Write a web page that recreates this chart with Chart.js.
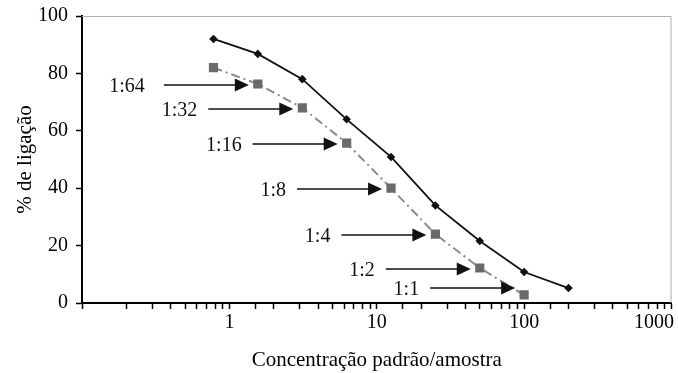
<!DOCTYPE html>
<html>
<head>
<meta charset="utf-8">
<script src="https://cdn.jsdelivr.net/npm/chart.js@4"></script>
<style>
  html, body { margin: 0; padding: 0; background: #fff; }
  #wrap { width: 678px; height: 373px; }
</style>
</head>
<body>
<div id="wrap"><canvas id="chart"></canvas></div>
<script>
// concentration (doubling dilutions)
const concentrations = [0.78, 1.56, 3.125, 6.25, 12.5, 25, 50, 100, 200];
const padraoValues = [92, 86.8, 78, 64, 50.9, 34, 21.6, 10.8, 5.2];
const amostraValues = [82, 76.3, 68, 55.7, 40, 24, 12.2, 2.8];
const dilutionLabels = ["1:64", "1:32", "1:16", "1:8", "1:4", "1:2", "1:1"];
const xTickLabels = [1, 10, 100, 1000];
const yTicks = [0, 20, 40, 60, 80, 100];

const serif = "'Liberation Serif', 'DejaVu Serif', serif";

// arrows point at the gray squares (skip the first one)
const arrowPlugin = {
  id: "arrows",
  afterDatasetsDraw(chart) {
    const ctx = chart.ctx;
    const pts = chart.getDatasetMeta(1).data;
    const bottom = chart.chartArea.bottom;
    ctx.save();
    ctx.strokeStyle = "#111";
    ctx.fillStyle = "#111";
    ctx.lineWidth = 1.5;
    ctx.font = "20px " + serif;
    ctx.textAlign = "right";
    ctx.textBaseline = "middle";
    dilutionLabels.forEach((lab, i) => {
      const p = pts[i + 1];
      const tip = p.x - 9;
      const y = Math.min(Math.round(p.y) + 1, bottom - 15);
      const start = tip - 85;
      ctx.beginPath();
      ctx.moveTo(start, y);
      ctx.lineTo(tip - 10, y);
      ctx.stroke();
      ctx.beginPath();
      ctx.moveTo(tip, y);
      ctx.lineTo(tip - 14, y - 6.5);
      ctx.lineTo(tip - 14, y + 6.5);
      ctx.closePath();
      ctx.fill();
      ctx.fillText(lab, start - (i === 0 ? 19 : 11), y + 2);
    });
    ctx.restore();
  }
};

// light frame on top and right side
const framePlugin = {
  id: "frame",
  beforeDatasetsDraw(chart) {
    const a = chart.chartArea;
    const ctx = chart.ctx;
    ctx.save();
    ctx.strokeStyle = "#b0b0b0";
    ctx.lineWidth = 1;
    ctx.beginPath();
    ctx.moveTo(a.left, a.top + 0.5);
    ctx.lineTo(a.right - 0.5, a.top + 0.5);
    ctx.lineTo(a.right - 0.5, a.bottom);
    ctx.stroke();
    ctx.restore();
  }
};

new Chart(document.getElementById("chart"), {
  type: "line",
  data: {
    datasets: [
      {
        label: "padrão",
        data: concentrations.map((c, i) => ({ x: c, y: padraoValues[i] })),
        borderColor: "#111",
        backgroundColor: "#111",
        borderWidth: 1.8,
        pointStyle: "rectRot",
        pointRadius: 3,
        tension: 0
      },
      {
        label: "amostra",
        data: amostraValues.map((v, i) => ({ x: concentrations[i], y: v })),
        borderColor: "#8a8a8a",
        backgroundColor: "#6a6a6a",
        borderWidth: 2,
        borderDash: [9, 4, 2, 4],
        pointStyle: "rect",
        pointRadius: 6.5,
        pointBorderWidth: 0,
        tension: 0
      }
    ]
  },
  options: {
    responsive: true,
    maintainAspectRatio: false,
    animation: false,
    layout: { padding: { top: 16, right: 2, left: 0, bottom: 0 } },
    plugins: {
      legend: { display: false },
      tooltip: { enabled: false }
    },
    scales: {
      x: {
        type: "logarithmic",
        min: 0.1,
        max: 1000,
        border: { color: "#000", width: 2 },
        grid: { drawOnChartArea: false, tickColor: "#000", tickLength: 6, tickWidth: 1.5 },
        ticks: {
          autoSkip: false,
          maxRotation: 0,
          color: "#000",
          font: { family: serif, size: 20 },
          padding: 2,
          // the last label sits left of its tick, as in the original
          callback: (v) => (xTickLabels.includes(v) ? (v === 1000 ? "1000       " : String(v)) : "")
        },
        title: {
          display: true,
          text: "Concentração padrão/amostra",
          color: "#000",
          font: { family: serif, size: 21 },
          padding: { top: 5, bottom: 0 }
        },
        afterFit: (s) => { s.height = 70; s.paddingRight = 0; s.paddingLeft = 0; }
      },
      y: {
        min: 0,
        max: 100,
        border: { color: "#000", width: 2 },
        grid: { drawOnChartArea: false, tickColor: "#000", tickLength: 6, tickWidth: 1.5 },
        afterBuildTicks: (s) => { s.ticks = yTicks.map((v) => ({ value: v })); },
        ticks: {
          color: "#000",
          font: { family: serif, size: 20 },
          padding: 8
        },
        title: {
          display: true,
          text: "% de ligação",
          color: "#000",
          font: { family: serif, size: 21 },
          padding: { top: 13, bottom: 0 }
        },
        afterFit: (s) => { s.width = 82; s.paddingTop = 0; s.paddingBottom = 0; }
      }
    }
  },
  plugins: [framePlugin, arrowPlugin]
});
</script>
</body>
</html>
